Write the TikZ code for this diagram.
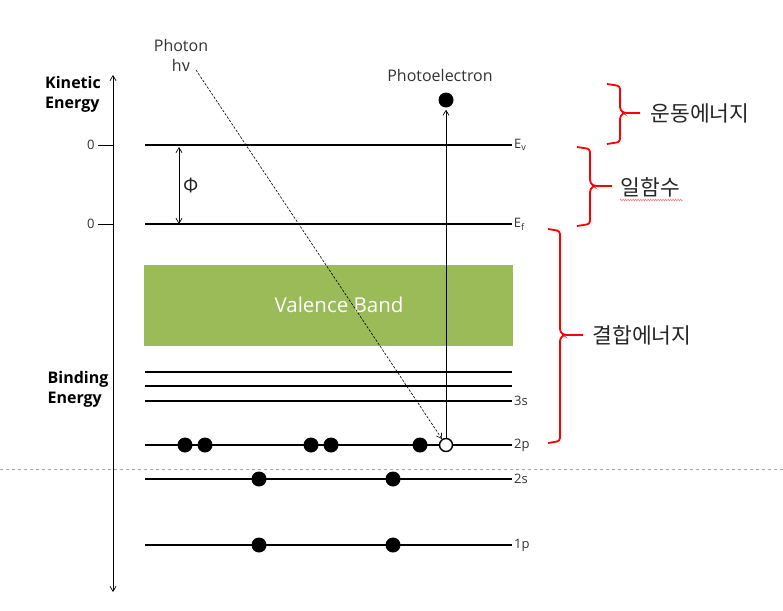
\documentclass[tikz,border=0pt]{standalone}
\usepackage{fontspec}
\setmainfont{Open Sans}
\newfontfamily\kr{Noto Sans CJK KR}
\usetikzlibrary{arrows.meta,decorations.pathmorphing}
\definecolor{vband}{RGB}{155,187,89}
\begin{document}
\begin{tikzpicture}[x=1pt,y=-1pt,
  level/.style={line width=2.4pt},
  thinlevel/.style={line width=1.6pt},
  lab/.style={anchor=west,font=\fontsize{13}{15}\selectfont,inner sep=1pt,text=black!80},
  elec/.style={circle,fill=black,minimum size=15pt,inner sep=0pt},
  holec/.style={circle,draw=black,fill=white,line width=1.4pt,minimum size=13pt,inner sep=0pt},
  tip/.style={-{Straight Barb[length=5pt,width=6pt]}},
  brace/.style={red,line width=1.8pt,rounded corners=3pt},
  krtext/.style={font=\kr\fontsize{21.5}{24}\selectfont,text=black!85},
  axlab/.style={font=\bfseries\fontsize{16}{20}\selectfont,align=left,inner sep=0pt}
]
\useasboundingbox (0,0) rectangle (783,610);
% dashed separator
\draw[gray!70,dashed,line width=0.6pt] (0,469) -- (783,469);
% axis
\coordinate (axT) at (113,75);
\coordinate (axB) at (113,592);
\draw[{Straight Barb[length=5pt,width=6pt]}-{Straight Barb[length=5pt,width=6pt]},line width=0.7pt] (axT) -- (axB);
\node[axlab] (ke) at (73,94) {Kinetic\\Energy};
\node[axlab] (be) at (78,389) {Binding\\Energy};
% ticks
\coordinate (t1) at (113,145); \coordinate (t2) at (113,224);
\draw[line width=0.7pt] (t1) -- ++(-15,0) node[left,inner sep=3pt,font=\fontsize{13}{15}\selectfont,text=black!80] (z1) {0};
\draw[line width=0.7pt] (t2) -- ++(-15,0) node[left,inner sep=3pt,font=\fontsize{13}{15}\selectfont,text=black!80] (z2) {0};
% levels
\coordinate (evL) at (145,145); \coordinate (evR) at (512,145);
\coordinate (efL) at (145,224); \coordinate (efR) at (512,224);
\draw[level] (evL) -- (evR) node[lab] (ev) {E\textsubscript{v}};
\draw[thinlevel] (efL) -- (efR) node[lab] (ef) {E\textsubscript{f}};
% valence band
\node[fill=vband,minimum width=369pt,minimum height=81pt,inner sep=0pt] (vb) at (328.5,305) {};
\node[text=white,font=\fontsize{20.5}{24}\selectfont] (vbt) at (339,305) {Valence Band};
% core lines
\coordinate (a1L) at (145,372); \coordinate (a1R) at (512,372);
\coordinate (a2L) at (145,386); \coordinate (a2R) at (512,386);
\coordinate (s3L) at (145,401); \coordinate (s3R) at (512,401);
\coordinate (p2L) at (145,445); \coordinate (p2R) at (512,445);
\coordinate (s2L) at (145,479); \coordinate (s2R) at (512,479);
\coordinate (p1L) at (145,545); \coordinate (p1R) at (512,545);
\draw[level] (a1L) -- (a1R);
\draw[level] (a2L) -- (a2R);
\draw[level] (s3L) -- (s3R) node[lab] (l3s) {3s};
\draw[level] (p2L) -- (p2R) node[lab] (l2p) {2p};
\draw[level] (s2L) -- (s2R) node[lab] (l2s) {2s};
\draw[level] (p1L) -- (p1R) node[lab] (l1p) {1p};
% electrons
\foreach \x/\n in {185/e1,205/e2,311/e3,331/e4,420/e5}
  \node[elec] (\n) at (\x,445) {};
\node[holec] (hole) at (446,445) {};
\foreach \x/\n in {259/f1,393/f2}
  \node[elec] (\n) at (\x,479) {};
\foreach \x/\n in {259/g1,393/g2}
  \node[elec] (\n) at (\x,545) {};
% photoelectron
\node[elec] (pe) at (446,100) {};
\node[font=\fontsize{16}{18}\selectfont,text=black!80] (pel) at (440,75) {Photoelectron};
\draw[tip,line width=0.7pt,shorten >=2pt] (hole) -- (pe);
% photon
\node[font=\fontsize{16}{20}\selectfont,text=black!80,align=center,inner sep=0pt] (ph) at (181,55) {Photon\\h\kr ν};
\coordinate (phs) at (196,70);
\draw[tip,dashed,line width=0.6pt,dash pattern=on 2.5pt off 1.5pt] (phs) -- (hole);
% work function arrow
\coordinate (wfT) at (179,147); \coordinate (wfB) at (179,224);
\draw[{Straight Barb[length=5pt,width=6pt]}-{Straight Barb[length=5pt,width=6pt]},line width=0.7pt] (wfT) -- (wfB);
\node[font=\kr\fontsize{19}{21}\selectfont,text=black!85] (phi) at (191,186) {Φ};
% braces
\draw[brace] (607,84) -- (620,86) -- (620,110) -- (624,113) -- (640,113);
\draw[brace] (624,113) -- (620,116) -- (620,142) -- (607,144);
\draw[brace] (577,147) -- (590,149) -- (590,183) -- (594,186) -- (612,186);
\draw[brace] (594,186) -- (590,189) -- (590,224) -- (577,226);
\draw[brace] (548,229) -- (560,231) -- (560,332) -- (564,335) -- (583,335);
\draw[brace] (564,335) -- (560,338) -- (560,441) -- (548,443);
\node[krtext,anchor=west] (kin) at (647,113) {운동에너지};
\node[krtext,anchor=west] (wf) at (617,187) {일함수};
\draw[red!60,line width=0.5pt,decorate,decoration={zigzag,amplitude=0.8pt,segment length=2.5pt}] (620,200) -- (683,200);
\node[krtext,anchor=west] (bind) at (589,335) {결합에너지};
\end{tikzpicture}
\end{document}
